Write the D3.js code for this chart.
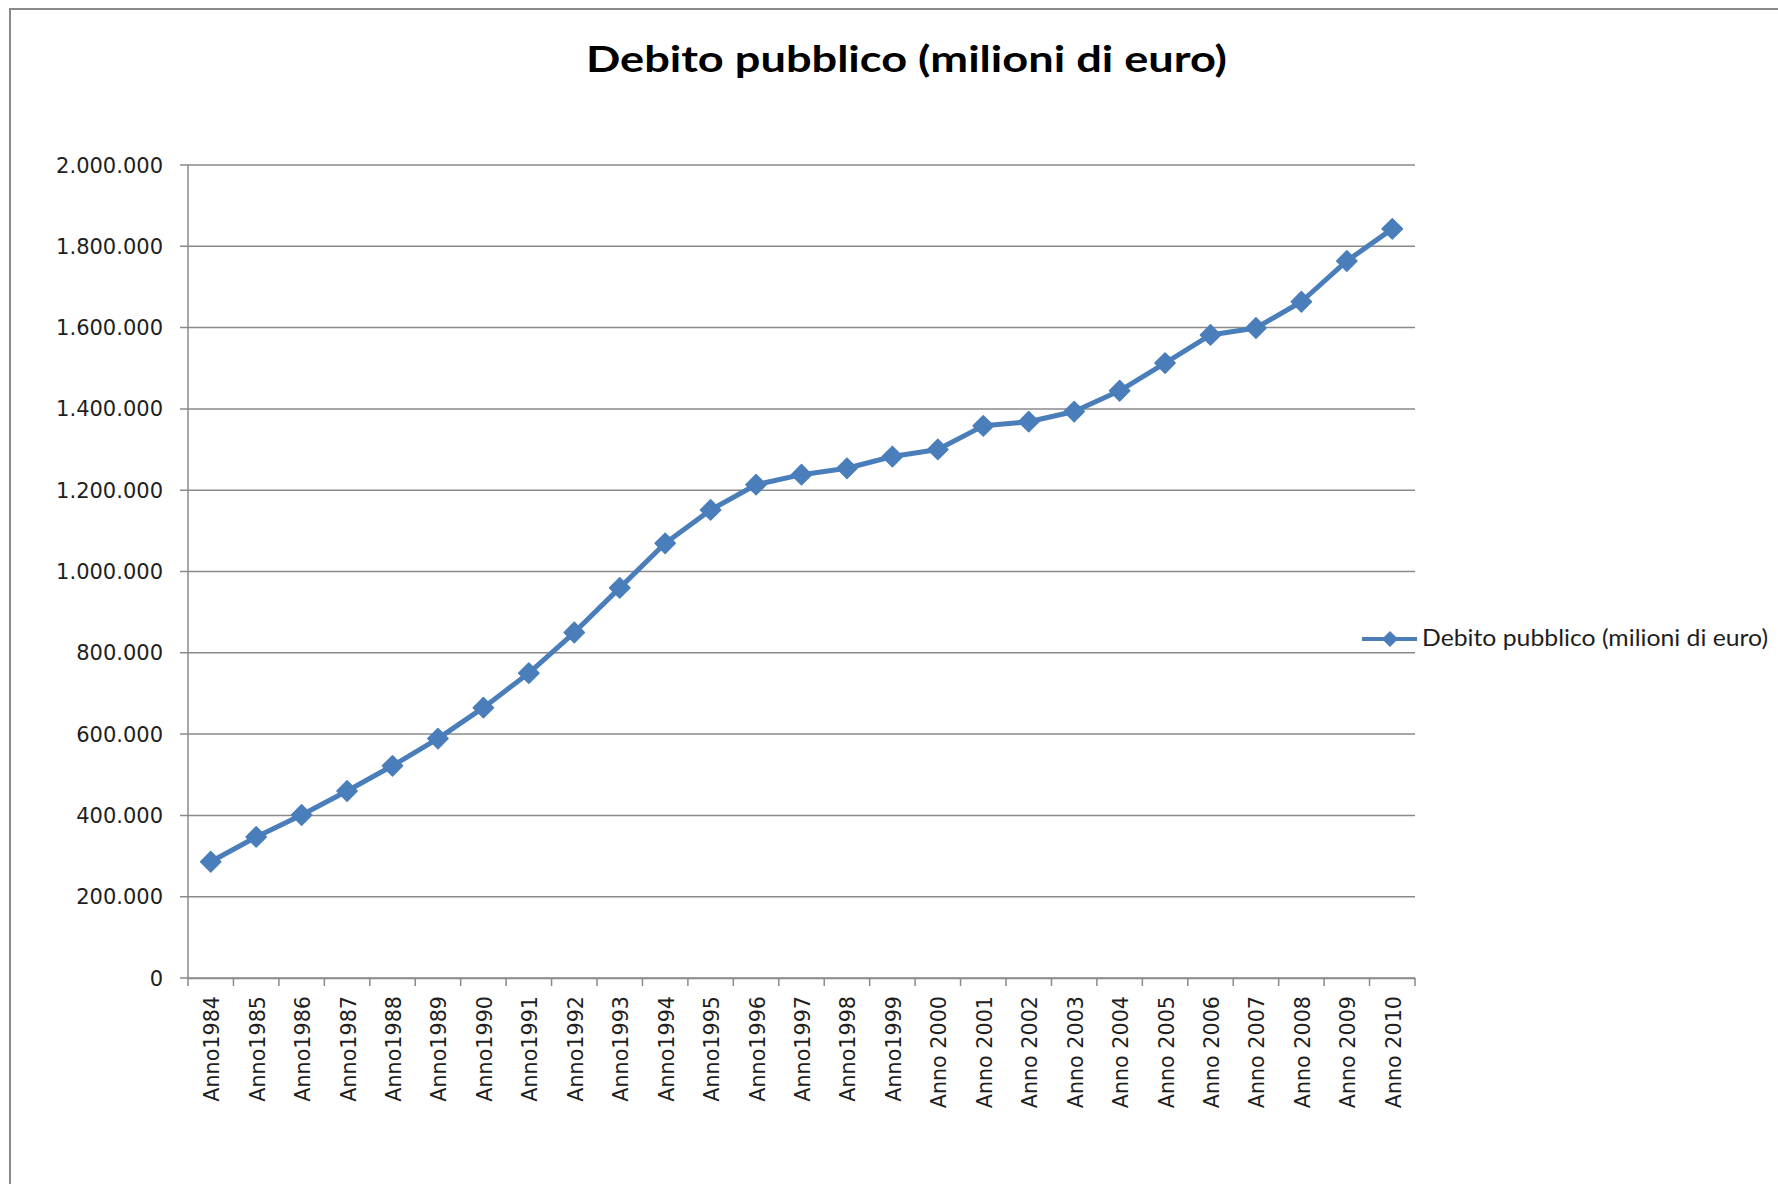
<!DOCTYPE html>
<html>
<head>
<meta charset="utf-8">
<script src="https://cdn.jsdelivr.net/npm/d3@7.9.0/dist/d3.min.js"></script>
<style>
  body { margin: 0; background: #fff; }
  svg { display: block; }
</style>
</head>
<body>
<svg id="chart" width="1778" height="1184"></svg>
<script>
// years on the category axis, as they are written in the sheet
const years = [
  'Anno1984', 'Anno1985', 'Anno1986', 'Anno1987', 'Anno1988', 'Anno1989',
  'Anno1990', 'Anno1991', 'Anno1992', 'Anno1993', 'Anno1994', 'Anno1995',
  'Anno1996', 'Anno1997', 'Anno1998', 'Anno1999', 'Anno 2000', 'Anno 2001',
  'Anno 2002', 'Anno 2003', 'Anno 2004', 'Anno 2005', 'Anno 2006', 'Anno 2007',
  'Anno 2008', 'Anno 2009', 'Anno 2010'
];
// debito pubblico, milioni di euro
const debito = [
  286000, 347000, 401000, 460000, 522000, 589000,
  665000, 750000, 849900, 959700, 1069400, 1151500,
  1213500, 1238200, 1253900, 1282800, 1300300, 1358300,
  1368500, 1393500, 1444600, 1512800, 1582000, 1599000,
  1663600, 1763900, 1842800
];
const yTicks = [0, 200000, 400000, 600000, 800000, 1000000, 1200000, 1400000, 1600000, 1800000, 2000000];

const chartTitle = 'Debito pubblico (milioni di euro)';
const seriesName = 'Debito pubblico (milioni di euro)';

const blue = '#4a7ebb';
const grey = '#8a8a8a';

const itFormat = d3.formatLocale({ decimal: ',', thousands: '.', grouping: [3], currency: ['', '€'] }).format(',d');

const svg = d3.select('#chart');

// outer chart border (runs off the right and bottom of the picture)
svg.append('rect')
  .attr('x', 10).attr('y', 9)
  .attr('width', 1800).attr('height', 1200)
  .attr('fill', '#fff')
  .attr('stroke', grey)
  .attr('stroke-width', 2);

const plotL = 188, plotR = 1415, plotT = 165, plotB = 978;

const x = d3.scaleBand().domain(years).range([plotL, plotR]).padding(0);
const y = d3.scaleLinear().domain([0, 2000000]).range([plotB, plotT]);
const cx = d => x(d) + x.bandwidth() / 2;

// gridlines + little ticks left of the value axis
svg.append('g')
  .selectAll('line')
  .data(yTicks)
  .join('line')
  .attr('x1', plotL - 8).attr('x2', plotR)
  .attr('y1', d => y(d)).attr('y2', d => y(d))
  .attr('stroke', grey)
  .attr('stroke-width', 1.5);

svg.append('g')
  .selectAll('text')
  .data(yTicks)
  .join('text')
  .attr('x', 163)
  .attr('y', d => y(d))
  .attr('dy', '0.36em')
  .attr('text-anchor', 'end')
  .attr('font-family', 'DejaVu Sans')
  .attr('font-size', 21)
  .attr('fill', '#1e1e1e')
  .text(d => itFormat(d));

// value axis line
svg.append('line')
  .attr('x1', plotL).attr('x2', plotL)
  .attr('y1', plotT).attr('y2', plotB)
  .attr('stroke', grey).attr('stroke-width', 1.5);

// category axis: ticks sit on the band edges
const xAxis = d3.axisBottom(x).tickSize(0).tickFormat('');
svg.append('g')
  .attr('transform', `translate(0,${plotB})`)
  .call(xAxis)
  .call(g => g.select('.domain').attr('stroke', grey).attr('stroke-width', 1.5));

const edges = years.map(d => x(d)).concat([plotR]);
svg.append('g')
  .selectAll('line')
  .data(edges)
  .join('line')
  .attr('x1', d => d).attr('x2', d => d)
  .attr('y1', plotB).attr('y2', plotB + 8)
  .attr('stroke', grey)
  .attr('stroke-width', 1.5);

svg.append('g')
  .selectAll('text')
  .data(years)
  .join('text')
  .attr('transform', d => `translate(${cx(d) + 1},996) rotate(-90)`)
  .attr('dy', '0.36em')
  .attr('text-anchor', 'end')
  .attr('font-family', 'DejaVu Sans')
  .attr('font-size', 20.7)
  .attr('fill', '#1e1e1e')
  .text(d => d);

// the series
const pts = years.map((d, i) => [cx(d), y(debito[i])]);
svg.append('path')
  .attr('d', d3.line()(pts))
  .attr('fill', 'none')
  .attr('stroke', blue)
  .attr('stroke-width', 5)
  .attr('stroke-linejoin', 'round');

const diamond = d3.symbol(d3.symbolSquare, 205);
svg.append('g')
  .selectAll('path')
  .data(pts)
  .join('path')
  .attr('d', diamond)
  .attr('transform', d => `translate(${d[0]},${d[1]}) rotate(45)`)
  .attr('fill', blue)
  .attr('stroke', blue)
  .attr('stroke-width', 1.5)
  .attr('stroke-linejoin', 'round');

// title
svg.append('text')
  .attr('x', 586).attr('y', 72)
  .attr('font-family', 'Lato')
  .attr('font-weight', 'bold')
  .attr('font-size', 36)
  .attr('textLength', 641)
  .attr('lengthAdjust', 'spacingAndGlyphs')
  .attr('fill', '#000')
  .text(chartTitle);

// legend
const lg = svg.append('g');
lg.append('line')
  .attr('x1', 1362).attr('x2', 1417)
  .attr('y1', 639).attr('y2', 639)
  .attr('stroke', blue).attr('stroke-width', 4);
lg.append('path')
  .attr('d', d3.symbol(d3.symbolSquare, 130)())
  .attr('transform', 'translate(1390,639) rotate(45)')
  .attr('fill', blue);
lg.append('text')
  .attr('x', 1422).attr('y', 646)
  .attr('font-family', 'Lato')
  .attr('font-size', 23)
  .attr('textLength', 346)
  .attr('lengthAdjust', 'spacingAndGlyphs')
  .attr('fill', '#1e1e1e')
  .text(seriesName);
</script>
</body>
</html>
